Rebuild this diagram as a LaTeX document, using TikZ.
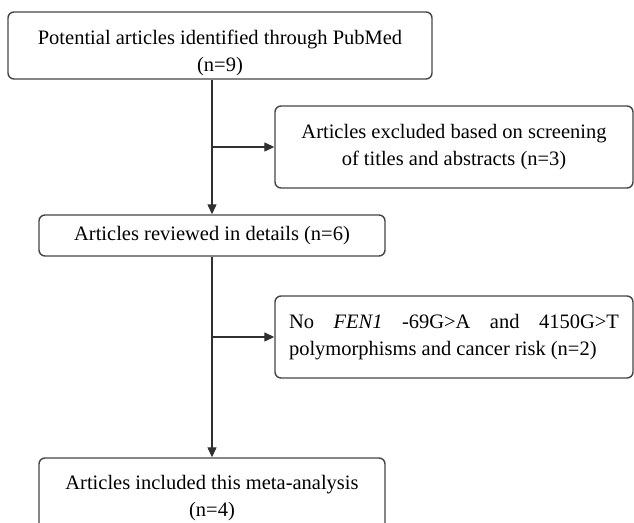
\documentclass[tikz,border=0pt]{standalone}
\usepackage{fontspec}
\setmainfont{Liberation Serif}
\usetikzlibrary{arrows.meta}
\definecolor{boxgray}{HTML}{454545}
\definecolor{linegray}{HTML}{303030}
\begin{document}
\begin{tikzpicture}[x=1pt,y=1pt,
  box/.style={draw=boxgray, line width=1.4pt, rounded corners=6pt, align=center,
    font=\fontsize{20.5}{27}\selectfont, inner sep=0pt},
  conn/.style={draw=linegray, line width=1.3pt, -{Triangle[length=10pt,width=9pt]}}]
\useasboundingbox (0,0) rectangle (634,522);
\clip (0,0) rectangle (634,522);
\node[box, minimum width=424pt, minimum height=67pt] (b1) at (220,476.5)
  {\rule{0pt}{29pt}Potential articles identified through PubMed\\(n=9)};
\node[box, minimum width=358pt, minimum height=82pt] (b2) at (454,375)
  {Articles excluded based on screening\\of titles and abstracts (n=3)};
\node[box, minimum width=346pt, minimum height=41pt] (b3) at (212,286.5)
  {Articles reviewed in details (n=6)};
\node[box, minimum width=358pt, minimum height=82pt, text width=330pt, align=justify] (b4) at (454,185)
  {No \textit{FEN1} -69G>A and 4150G>T\linebreak polymorphisms and cancer risk (n=2)};
\node[box, minimum width=346pt, minimum height=72pt] (b5) at (212,28)
  {\rule{0pt}{22.5pt}Articles included this meta-analysis\\(n=4)};
\draw[conn] (b1.south -| b3.north) -- (b3.north);
\draw[conn] (b3.north |- b2.west) -- (b2.west);
\draw[conn] (b3.south) -- (b5.north);
\draw[conn] (b3.south |- b4.west) -- (b4.west);
\end{tikzpicture}
\end{document}
